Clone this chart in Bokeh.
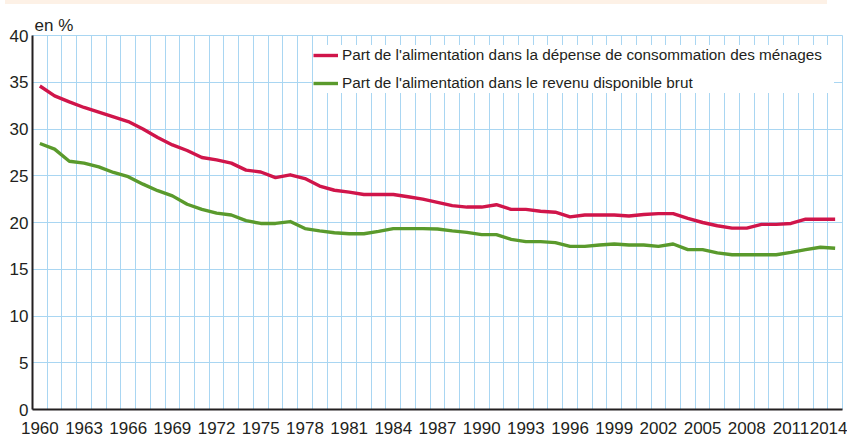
from bokeh.plotting import figure
from bokeh.models import FixedTicker, Legend, LegendItem, Range1d, Div
from bokeh.layouts import column
from bokeh.embed import file_html
from bokeh.resources import INLINE

years = list(range(1960, 2015))
part_depense = [34.6, 33.55, 32.9, 32.3, 31.8, 31.3, 30.8, 30.0, 29.1, 28.3,
                27.7, 26.95, 26.7, 26.35, 25.6, 25.4, 24.8, 25.1, 24.7, 23.9,
                23.45, 23.25, 23.0, 23.0, 23.0, 22.75, 22.5, 22.15, 21.8, 21.65,
                21.65, 21.9, 21.4, 21.4, 21.2, 21.1, 20.6, 20.8, 20.8, 20.8,
                20.7, 20.85, 20.95, 20.95, 20.45, 20.0, 19.65, 19.4, 19.4, 19.8,
                19.8, 19.9, 20.35, 20.35, 20.35]
part_revenu = [28.45, 27.85, 26.55, 26.35, 25.95, 25.35, 24.9, 24.1, 23.4, 22.85,
               21.95, 21.4, 21.0, 20.8, 20.2, 19.9, 19.9, 20.1, 19.35, 19.1,
               18.9, 18.8, 18.8, 19.05, 19.35, 19.35, 19.35, 19.3, 19.1, 18.95,
               18.7, 18.7, 18.2, 17.95, 17.95, 17.85, 17.45, 17.45, 17.6, 17.7,
               17.6, 17.6, 17.45, 17.7, 17.1, 17.1, 16.75, 16.55, 16.55, 16.55,
               16.55, 16.8, 17.1, 17.35, 17.25]
x_tick_years = list(range(1960, 2015, 3))
y_ticks = [0, 5, 10, 15, 20, 25, 30, 35, 40]
label_depense = "Part de l'alimentation dans la dépense de consommation des ménages"
label_revenu = "Part de l'alimentation dans le revenu disponible brut"
unit_label = "en %"

FONT = "Liberation Sans"
RED = "#d0154a"
GREEN = "#5a9a2c"
GRID = "#a9d6f2"
TEXT = "#231f20"

p = figure(frame_width=810, frame_height=374, output_backend="svg", toolbar_location=None,
           x_range=Range1d(years[0] - 0.5, years[-1] + 0.5),
           y_range=Range1d(0, 40),
           min_border_left=32, min_border_right=5, min_border_top=26, min_border_bottom=32)
p.background_fill_color = "white"
p.border_fill_color = "white"
p.outline_line_color = GRID
p.outline_line_width = 1

p.title.text = unit_label
p.title.align = "left"
p.title.offset = 2
p.title.standoff = 2
p.title.text_font = FONT
p.title.text_font_size = "17px"
p.title.text_font_style = "normal"
p.title.text_color = TEXT
p.title.vertical_align = "bottom"

p.xgrid.ticker = FixedTicker(ticks=[y - 0.5 for y in years] + [years[-1] + 0.5])
p.ygrid.ticker = FixedTicker(ticks=y_ticks)
p.xgrid.grid_line_color = GRID
p.ygrid.grid_line_color = GRID
p.xgrid.grid_line_width = 1
p.ygrid.grid_line_width = 1

p.xaxis.ticker = FixedTicker(ticks=x_tick_years)
p.yaxis.ticker = FixedTicker(ticks=y_ticks)
for ax in (p.xaxis[0], p.yaxis[0]):
    ax.axis_line_color = TEXT
    ax.axis_line_width = 2
    ax.major_tick_line_color = None
    ax.minor_tick_line_color = None
    ax.major_tick_out = 0
    ax.major_tick_in = 0
    ax.minor_tick_out = 0
    ax.minor_tick_in = 0
    ax.major_label_text_font = FONT
    ax.major_label_text_font_size = "17px"
    ax.major_label_text_color = TEXT
p.xaxis.major_label_standoff = 12
p.yaxis.major_label_standoff = 4

r1 = p.line(years, part_depense, line_color=RED, line_width=3.4, line_join="round")
r2 = p.line(years, part_revenu, line_color=GREEN, line_width=3.4, line_join="round")

legend = Legend(items=[LegendItem(label=label_depense, renderers=[r1]),
                       LegendItem(label=label_revenu, renderers=[r2])],
                location=(281, 316), orientation="vertical",
                background_fill_color="white", background_fill_alpha=1.0,
                border_line_color=None, padding=4, spacing=8,
                glyph_width=25, glyph_height=20, label_height=20, label_width=492,
                label_standoff=4, margin=0,
                label_text_font=FONT, label_text_font_size="15.3px",
                label_text_color=TEXT)
p.add_layout(legend, "center")

band = Div(text="", width=822, height=7, styles={"background-color": "#fdf1e6"})
layout = column(band, p, spacing=0, styles={"margin-top": "-8px"})

open("out.html", "w").write(file_html(layout, INLINE))
